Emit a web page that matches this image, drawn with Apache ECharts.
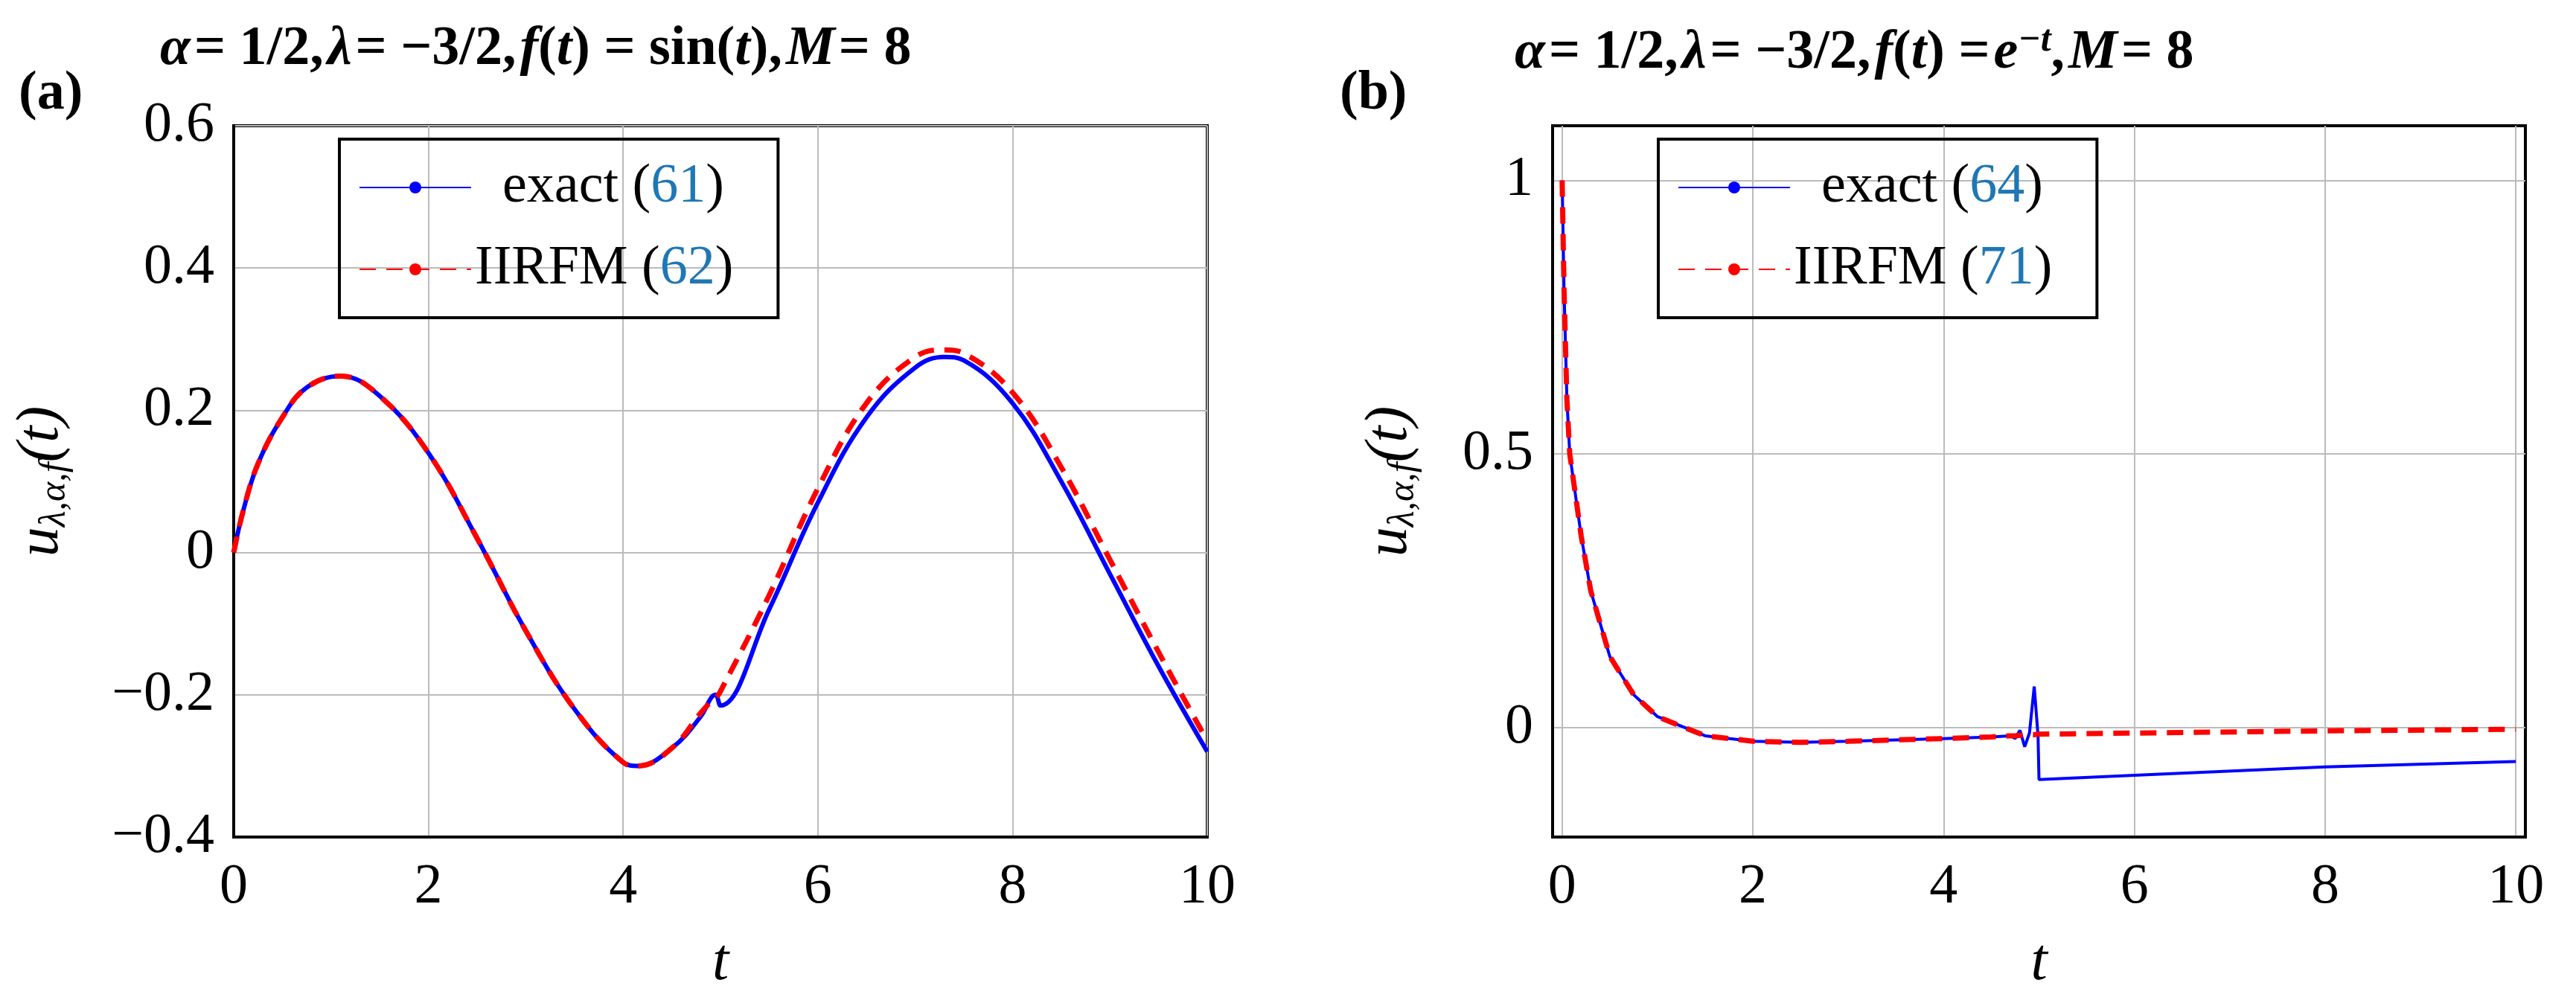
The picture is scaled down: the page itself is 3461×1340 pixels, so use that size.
<!DOCTYPE html>
<html><head><meta charset="utf-8">
<script src="https://cdn.jsdelivr.net/npm/echarts@6/dist/echarts.min.js"></script>
<style>html,body{margin:0;background:#fff}#c{width:3461px;height:1340px}</style>
</head><body><div id="c"></div>
<script>
// panel (a): f(t) = sin(t)
var tA = [0, 0.1, 0.25, 0.5, 0.75, 1.1, 1.5, 2, 2.5, 3, 3.5, 4, 4.15, 4.5, 4.8, 4.9, 4.95, 5.0, 5.5, 6, 6.5, 7, 7.3, 7.5, 8, 8.5, 9, 9.5, 10];
var exactA = [0, 0.06, 0.125, 0.19, 0.232, 0.248, 0.22, 0.14, 0.02, -0.11, -0.22, -0.295, -0.30, -0.275, -0.23, -0.205, -0.20, -0.215, -0.08, 0.07, 0.19, 0.26, 0.275, 0.27, 0.21, 0.10, -0.03, -0.16, -0.28];
var iirfmA = [0, 0.06, 0.125, 0.19, 0.232, 0.248, 0.22, 0.14, 0.02, -0.11, -0.22, -0.295, -0.30, -0.275, -0.225, -0.21, -0.205, -0.195, -0.06, 0.09, 0.21, 0.275, 0.285, 0.28, 0.225, 0.12, -0.01, -0.14, -0.265];
// panel (b): f(t) = e^{-t}
var tB = [0, 0.02, 0.05, 0.08, 0.2, 0.3, 0.5, 0.75, 1, 1.5, 2, 2.5, 3, 4, 4.5, 4.7, 4.75, 4.8, 4.85, 4.9, 4.95, 4.99, 5.0, 6, 8, 10];
var exactB = [1, 0.8, 0.6, 0.5, 0.35, 0.25, 0.13, 0.06, 0.02, -0.015, -0.025, -0.027, -0.025, -0.02, -0.017, -0.015, -0.02, -0.005, -0.035, -0.01, 0.075, -0.015, -0.095, -0.087, -0.072, -0.062];
var iirfmB = [1, 0.8, 0.6, 0.5, 0.35, 0.25, 0.13, 0.06, 0.02, -0.015, -0.025, -0.027, -0.025, -0.02, -0.017, -0.015, -0.015, -0.014, -0.014, -0.013, -0.013, -0.012, -0.012, -0.01, -0.006, -0.003];
var refsA = ["61", "62"];
var refsB = ["64", "71"];

function pairs(t, y) { return t.map(function (v, i) { return [v, y[i]]; }); }

var FONT = "Liberation Serif";
var rich = {
  n: { fontFamily: FONT, fontSize: 74, color: "#000", padding: [0, 0, 0, 0] },
  r: { fontFamily: FONT, fontSize: 74, color: "#1f77b4" }
};
function legendFmt(refs) {
  return function (name) {
    return name === "exact" ? "{n|  exact (}{r|" + refs[0] + "}{n|)}" : "{n|IIRFM (}{r|" + refs[1] + "}{n|)}";
  };
}
var yName = "{u|u}{s|λ,α,f}{u|(t)}";
var yRich = {
  u: { fontFamily: FONT, fontStyle: "italic", fontSize: 80, color: "#000" },
  s: { fontFamily: FONT, fontStyle: "italic", fontSize: 50, color: "#000", padding: [36, 0, 0, 0] }
};
var titleRich = {
  i: { fontFamily: FONT, fontStyle: "italic", fontSize: 74, color: "#000" },
  n: { fontFamily: FONT, fontSize: 74, color: "#000" },
  s: { fontFamily: FONT, fontStyle: "italic", fontSize: 50, color: "#000", padding: [0, 0, 34, 0] },
  b: { fontFamily: FONT, fontWeight: "bold", fontSize: 74, color: "#000" }
};
var cycleX = [];
for (var k = 0; k < 20; k++) cycleX.push(k === 1 ? "#bbb" : "rgba(0,0,0,0)");
var cycleY = ["rgba(0,0,0,0)", "rgba(0,0,0,0)", "#bbb", "rgba(0,0,0,0)", "rgba(0,0,0,0)"];

function xAx(i, min, max, interval, gridColor) {
  return {
    gridIndex: i, type: "value", min: min, max: max, interval: interval,
    name: "t", nameLocation: "middle", nameGap: 130,
    nameTextStyle: { fontFamily: FONT, fontStyle: "italic", fontSize: 80, color: "#000" },
    axisLine: { onZero: false, lineStyle: { color: "#000", width: 4 } },
    axisTick: { show: false },
    axisLabel: { fontFamily: FONT, fontSize: 76, color: "#000", margin: 30, showMinLabel: true, showMaxLabel: true,
      formatter: function (v) { var r = Math.round(v * 10) / 10; return (Math.abs(r - Math.round(r)) < 1e-6 && Math.round(r) % 2 === 0 && r >= 0 && r <= 10) ? String(Math.round(r)) : ""; } },
    splitLine: { lineStyle: { color: gridColor, width: 2 } }
  };
}
function yAx(i, min, max, interval, labels, gap, gridColor) {
  return {
    gridIndex: i, type: "value", min: min, max: max, interval: interval,
    name: yName, nameLocation: "middle", nameGap: gap, nameRotate: 90,
    nameTextStyle: { rich: yRich },
    axisLine: { onZero: false, lineStyle: { color: "#000", width: 4 } },
    axisTick: { show: false },
    axisLabel: { fontFamily: FONT, fontSize: 76, color: "#000", margin: 26, formatter: labels },
    splitLine: { lineStyle: { color: gridColor, width: 2 } }
  };
}

var chart = echarts.init(document.getElementById("c"));
chart.setOption({
  backgroundColor: "#fff",
  animation: false,
  title: [
    { text: "{n|(}{b|a}{n|)}", left: 20, top: 85, textStyle: { rich: titleRich } },
    { text: "{i|α} {n|= 1/2,} {i|λ} {n|= −3/2,} {i|f}{n|(}{i|t}{n|) = sin(}{i|t}{n|),} {i|M} {n|= 8}", left: 210, top: 25, textStyle: { rich: titleRich } },
    { text: "{n|(}{b|b}{n|)}", left: 1795, top: 85, textStyle: { rich: titleRich } },
    { text: "{i|α} {n|= 1/2,} {i|λ} {n|= −3/2,} {i|f}{n|(}{i|t}{n|) =} {i|e}{s|−t}{n|,} {i|M} {n|= 8}", left: 2030, top: 25, textStyle: { rich: titleRich } }
  ],
  grid: [
    { left: 314, top: 169, width: 1308, height: 958, show: true, borderColor: "#000", borderWidth: 4 },
    { left: 2086, top: 169, width: 1307, height: 958, show: true, borderColor: "#000", borderWidth: 4 }
  ],
  legend: [
    { data: ["exact", "IIRFM"], left: 456, top: 187, orient: "vertical", itemWidth: 150, itemHeight: 20, itemGap: 36,
      padding: [28, 60, 28, 26], borderColor: "#000", borderWidth: 4, formatter: legendFmt(refsA), textStyle: { rich: rich } },
    { data: ["exact", "IIRFM"], left: 2228, top: 187, orient: "vertical", itemWidth: 150, itemHeight: 20, itemGap: 36,
      padding: [28, 60, 28, 26], borderColor: "#000", borderWidth: 4, formatter: legendFmt(refsB), textStyle: { rich: rich } }
  ],
  xAxis: [xAx(0, 0, 10, 2, "#bbb"), xAx(1, -0.1, 10.1, 0.1, cycleX)],
  yAxis: [
    yAx(0, -0.4, 0.6, 0.2, function (v) { var r = Math.round(v * 10) / 10; return r === 0 ? "0" : String(r).replace("-", "−"); }, 215, "#bbb"),
    yAx(1, -0.2, 1.1, 0.1, function (v) { var r = Math.round(v * 10) / 10; return r === 0 ? "0" : (r === 0.5 ? "0.5" : (r === 1 ? "1" : "")); }, 175, cycleY)
  ],
  series: [
    { name: "exact", type: "line", xAxisIndex: 0, yAxisIndex: 0, data: pairs(tA, exactA), smooth: 0.4, symbol: "none",
      lineStyle: { color: "#0000ff", width: 6 }, itemStyle: { color: "#0000ff" }, z: 2 },
    { name: "IIRFM", type: "line", xAxisIndex: 0, yAxisIndex: 0, data: pairs(tA, iirfmA), smooth: 0.4, symbol: "none",
      lineStyle: { color: "#ff0000", width: 7, type: [22, 14] }, itemStyle: { color: "#ff0000" }, z: 3 },
    { name: "exact", type: "line", xAxisIndex: 1, yAxisIndex: 1, data: pairs(tB, exactB), symbol: "none",
      lineStyle: { color: "#0000ff", width: 4 }, itemStyle: { color: "#0000ff" }, z: 2 },
    { name: "IIRFM", type: "line", xAxisIndex: 1, yAxisIndex: 1, data: pairs(tB, iirfmB), symbol: "none",
      lineStyle: { color: "#ff0000", width: 7, type: [22, 14] }, itemStyle: { color: "#ff0000" }, z: 3 }
  ]
});
</script></body></html>
